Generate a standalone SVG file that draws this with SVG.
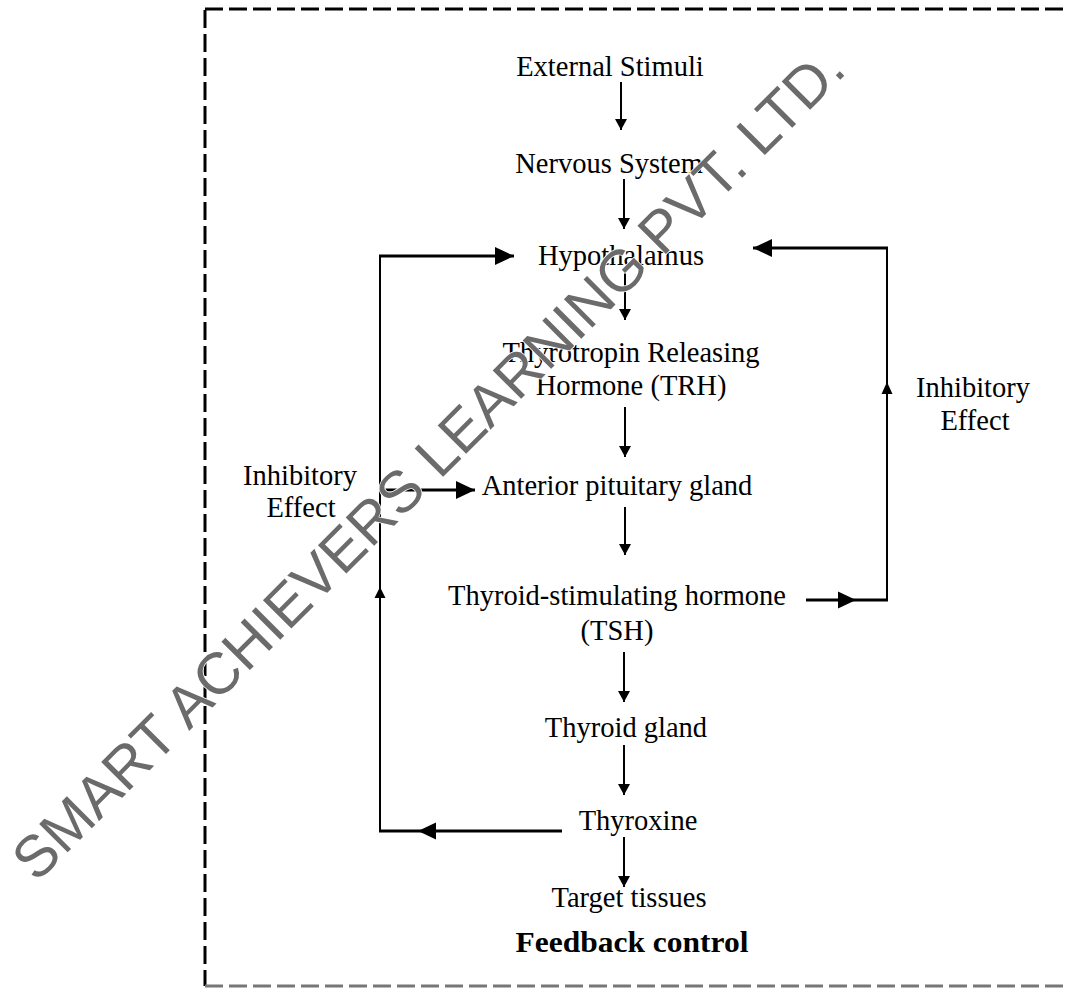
<svg xmlns="http://www.w3.org/2000/svg" width="1069" height="988" viewBox="0 0 1069 988">
<defs>
<style>
.t{font-family:"Liberation Serif","Times New Roman",serif;font-size:28.5px;fill:#000;text-anchor:middle}
.b{font-weight:bold;font-size:30px}
.ln{stroke:#000;stroke-width:2;fill:none}
.fb{stroke:#000;stroke-width:3;fill:none}
.hd{fill:#000}
.wm{font-family:"Liberation Sans",Arial,sans-serif;font-size:58.5px;fill:#6b6b6b;stroke:#fff;stroke-width:1.5;paint-order:stroke}
</style>
<marker id="ah" markerUnits="userSpaceOnUse" markerWidth="12" markerHeight="12" viewBox="0 0 10 11" refX="10" refY="5.5" orient="auto">
<path d="M0,0 L10,5.5 L0,11 z" fill="#000"/>
</marker>
<marker id="ahb" markerUnits="userSpaceOnUse" markerWidth="19" markerHeight="18" viewBox="0 0 18 17" refX="18" refY="8.5" orient="auto">
<path d="M0,0 L18,8.5 L0,17 z" fill="#000"/>
</marker>
</defs>
<rect width="1069" height="988" fill="#fff"/>
<g id="frame" stroke-width="3" stroke-dasharray="18 6" fill="none">
<line x1="205" y1="9" x2="1069" y2="9" stroke="#000"/>
<line x1="205" y1="10" x2="205" y2="986" stroke="#000"/>
<line x1="205" y1="986" x2="1069" y2="986" stroke="#777"/>
</g>
<g id="connectors">
<line class="ln" x1="621" y1="82" x2="621" y2="130" marker-end="url(#ah)"/>
<line class="ln" x1="624" y1="179" x2="624" y2="229" marker-end="url(#ah)"/>
<line class="ln" x1="625" y1="272" x2="625" y2="320" marker-end="url(#ah)"/>
<line class="ln" x1="625" y1="407" x2="625" y2="457" marker-end="url(#ah)"/>
<line class="ln" x1="625" y1="507" x2="625" y2="555" marker-end="url(#ah)"/>
<line class="ln" x1="624" y1="652" x2="624" y2="702" marker-end="url(#ah)"/>
<line class="ln" x1="624" y1="745" x2="624" y2="795" marker-end="url(#ah)"/>
<line class="ln" x1="624" y1="837" x2="624" y2="887" marker-end="url(#ah)"/>
<!-- left feedback loop -->
<line class="fb" x1="562" y1="831" x2="379" y2="831"/>
<polygon class="hd" points="418,831 436,822.5 436,839.5"/>
<line class="ln" x1="380" y1="832" x2="380" y2="255"/>
<polygon class="hd" points="380,587 374.5,598 385.5,598"/>
<line class="fb" x1="379" y1="256" x2="514" y2="256" marker-end="url(#ahb)"/>
<line class="fb" x1="380" y1="490" x2="475" y2="490" marker-end="url(#ahb)"/>
<!-- right feedback loop -->
<line class="fb" x1="806" y1="600" x2="888" y2="600"/>
<polygon class="hd" points="856,600 838,591.5 838,608.5"/>
<line class="ln" x1="887" y1="601" x2="887" y2="247"/>
<polygon class="hd" points="887,382 881.5,394 892.5,394"/>
<line class="fb" x1="888" y1="248" x2="753" y2="248" marker-end="url(#ahb)"/>
</g>
<g id="n-external"><text class="t" x="610" y="76">External Stimuli</text></g>
<g id="n-nervous"><text class="t" x="609" y="173">Nervous System</text></g>
<g id="n-hypothalamus"><text class="t" x="621" y="265">Hypothalamus</text></g>
<g id="n-trh"><text class="t" x="631" y="362">Thyrotropin Releasing</text><text class="t" x="631" y="395">Hormone (TRH)</text></g>
<g id="n-anterior"><text class="t" x="617" y="495">Anterior pituitary gland</text></g>
<g id="n-tsh"><text class="t" x="617" y="605">Thyroid-stimulating hormone</text><text class="t" x="617" y="640">(TSH)</text></g>
<g id="n-thyroid"><text class="t" x="626" y="737">Thyroid gland</text></g>
<g id="n-thyroxine"><text class="t" x="638" y="830">Thyroxine</text></g>
<g id="n-target"><text class="t" x="629" y="907">Target tissues</text></g>
<g id="n-inhib-left"><text class="t" x="300" y="485">Inhibitory</text><text class="t" x="301" y="517">Effect</text></g>
<g id="n-inhib-right"><text class="t" x="973" y="397">Inhibitory</text><text class="t" x="975" y="430">Effect</text></g>
<g id="title"><text class="t b" x="632" y="952" textLength="233" lengthAdjust="spacingAndGlyphs">Feedback control</text></g>
<g id="watermark"><text class="wm" x="36.6" y="883.4" transform="rotate(-45 36.6 883.4)">SMART ACHIEVERS LEARNING PVT. LTD.</text></g>
</svg>
